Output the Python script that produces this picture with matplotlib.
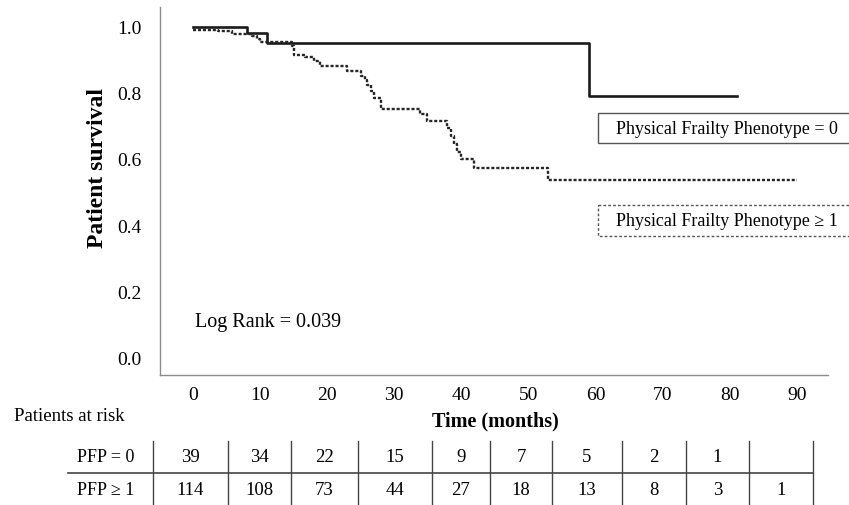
import matplotlib
matplotlib.use("Agg")
import matplotlib.pyplot as plt
from matplotlib.patches import Rectangle

plt.rcParams["font.family"] = ["Liberation Serif", "DejaVu Serif"]

# Kaplan-Meier steps (time in months, survival after the step)
PFP0_TIMES = [0, 8.0, 11.0, 59.0, 81.0]
PFP0_SURV = [1.0, 0.979, 0.949, 0.791, 0.791]

PFP1_TIMES = [0, 3.8, 5.8, 8.8, 9.5, 10.0, 14.7, 15.0, 16.7, 18.0, 19.0, 23.0,
              25.0, 25.6, 26.0, 26.5, 27.0, 28.0, 33.9, 34.9, 37.9, 38.4, 38.9,
              39.4, 39.9, 41.9, 52.9, 90.0]
PFP1_SURV = [0.991, 0.985, 0.977, 0.970, 0.962, 0.952, 0.942, 0.914, 0.907, 0.897,
             0.881, 0.867, 0.852, 0.838, 0.823, 0.805, 0.783, 0.751, 0.736, 0.715,
             0.692, 0.668, 0.645, 0.622, 0.600, 0.572, 0.535, 0.535]

X_TICKS = [0, 10, 20, 30, 40, 50, 60, 70, 80, 90]
Y_TICKS = [0.0, 0.2, 0.4, 0.6, 0.8, 1.0]

RISK_ROWS = ["PFP = 0", "PFP \u2265 1"]
RISK_PFP0 = ["39", "34", "22", "15", "9", "7", "5", "2", "1", ""]
RISK_PFP1 = ["114", "108", "73", "44", "27", "18", "13", "8", "3", "1"]

LEGEND_0 = "Physical Frailty Phenotype = 0"
LEGEND_1 = "Physical Frailty Phenotype \u2265 1"
LOG_RANK = "Log Rank = 0.039"

W, H = 849, 506
fig = plt.figure(figsize=(W / 100, H / 100), dpi=100)

# main plot, placed in pixel terms
left, right, top, bottom = 160, 828, 8, 376
ax = fig.add_axes([left / W, 1 - bottom / H, (right - left) / W, (bottom - top) / H])
ax.step(PFP0_TIMES, PFP0_SURV, where="post", color="#1a1a1a", lw=1.9)
ax.step(PFP1_TIMES, PFP1_SURV, where="post", color="#262626", lw=1.7,
        dashes=(1.3, 0.8))
ax.set_xlim(-4.9, 94.6)
ax.set_ylim(-0.053, 1.059)
ax.set_xticks(X_TICKS)
ax.set_yticks(Y_TICKS)
ax.set_yticklabels([f"{v:.1f}" for v in Y_TICKS])
ax.tick_params(length=0, labelsize=14)
ax.tick_params(axis="y", pad=13)
ax.tick_params(axis="x", pad=8)
for s in ["top", "right"]:
    ax.spines[s].set_visible(False)
for s in ["left", "bottom"]:
    ax.spines[s].set_color("#8c8c8c")
    ax.spines[s].set_linewidth(1.0)

# overlay in figure pixels for the annotations and risk table
ov = fig.add_axes([0, 0, 1, 1], zorder=5)
ov.set_xlim(0, W)
ov.set_ylim(H, 0)
ov.axis("off")
ov.patch.set_alpha(0)

ov.text(98, 168, "Patient survival", rotation=90, ha="center", va="center",
        fontsize=17, fontweight="bold")
ov.text(195, 323, LOG_RANK, ha="left", va="center", fontsize=14.5)

ov.add_patch(Rectangle((598, 114), 260, 30, fill=False, ec="#555555", lw=1.0))
ov.text(727, 129, LEGEND_0, ha="center", va="center", fontsize=13)
ov.add_patch(Rectangle((598, 206), 260, 31, fill=False, ec="#555555", lw=1.0,
                       ls=(0, (2, 1.5))))
ov.text(727, 222, LEGEND_1, ha="center", va="center", fontsize=13)

ov.text(495, 421, "Time (months)", ha="center", va="center", fontsize=14.5,
        fontweight="bold")
ov.text(14, 417, "Patients at risk", ha="left", va="center", fontsize=13.5)

col_edges = [153, 228, 291, 358, 432, 490, 552, 622, 686, 749, 813]
for xe in col_edges:
    ov.plot([xe, xe], [442, 506], color="#444444", lw=1.0)
ov.plot([68, 813], [474, 474], color="#444444", lw=1.2)
row_y = [458, 491]
for y, label, vals in zip(row_y, RISK_ROWS, [RISK_PFP0, RISK_PFP1]):
    ov.text(77, y, label, ha="left", va="center", fontsize=13)
    for i, v in enumerate(vals):
        xc = (col_edges[i] + col_edges[i + 1]) / 2
        ov.text(xc, y, v, ha="center", va="center", fontsize=13.5)

fig.savefig("out.png", dpi=100)
